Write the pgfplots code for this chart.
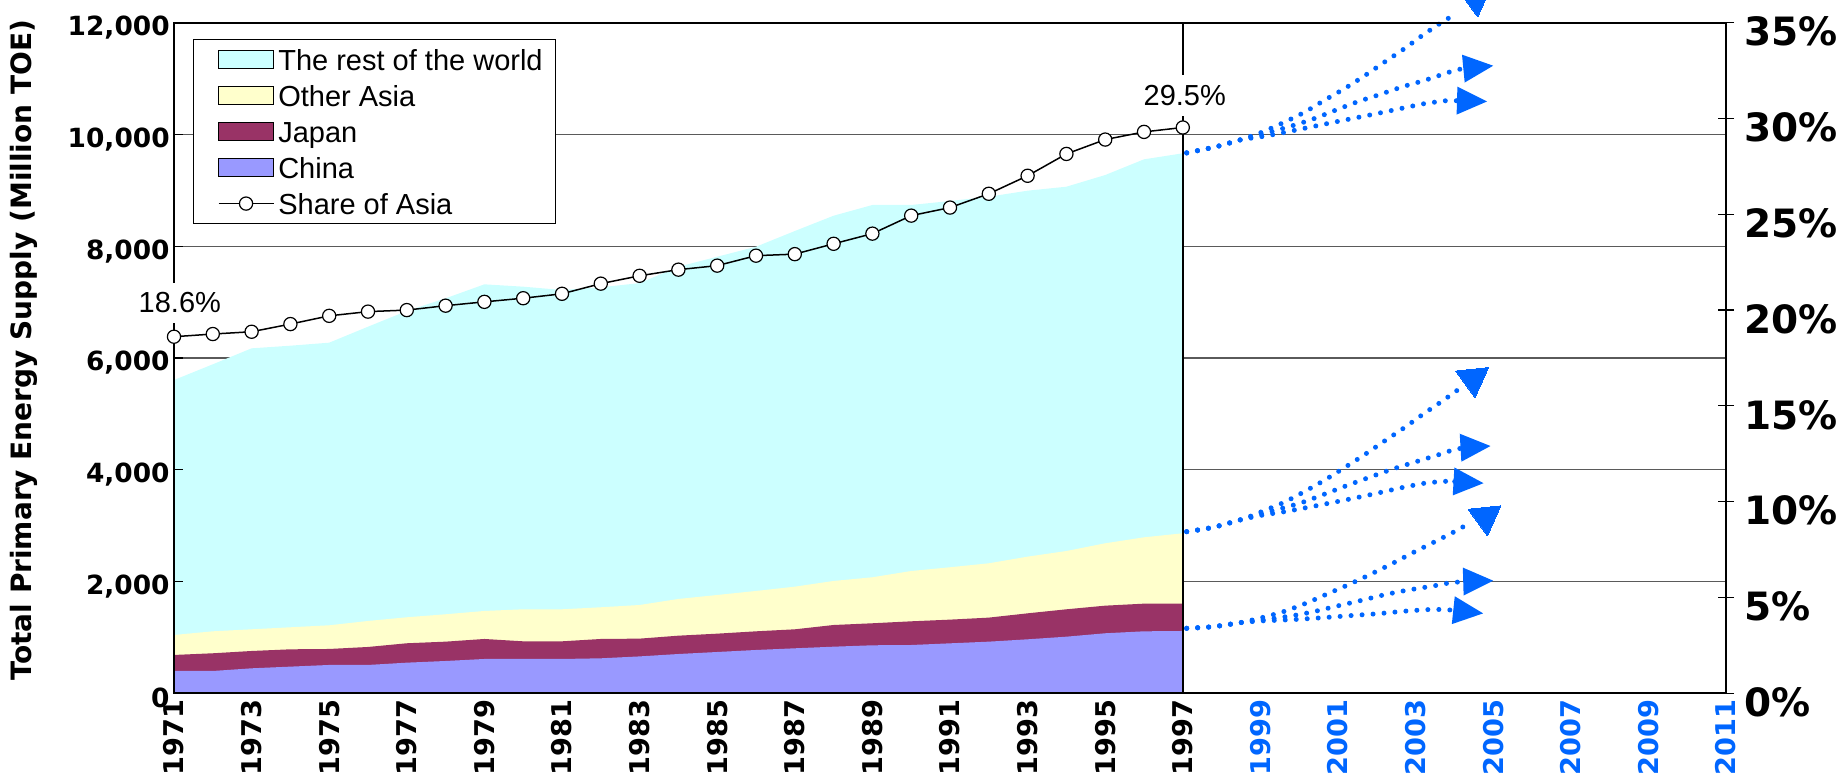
\documentclass[border=0pt]{standalone}
\usepackage{pgfplots}
\pgfplotsset{compat=1.18}
\usepackage{pgfplotstable}
\usetikzlibrary{arrows.meta}
\usepackage{fontspec}
\setmainfont{Liberation Sans}
\newfontfamily\dejavu{DejaVu Sans}

\definecolor{restc}{HTML}{CCFFFF}
\definecolor{oasiac}{HTML}{FFFFCC}
\definecolor{japanc}{HTML}{993366}
\definecolor{chinac}{HTML}{9999FF}
\definecolor{projc}{HTML}{0066FF}
\definecolor{gridc}{HTML}{5A5A5A}

\pgfplotstableread{
year china japan oasia rest share
1971 399 287 357 4563 18.61
1972 399 317 393 4778 18.75
1973 447 310 388 5028 18.87
1974 477 310 394 5039 19.27
1975 507 286 424 5057 19.70
1976 507 322 465 5266 19.92
1977 548 347 465 5481 20.00
1978 578 346 490 5654 20.23
1979 614 358 501 5845 20.43
1980 614 316 573 5773 20.62
1981 614 316 573 5714 20.85
1982 626 346 567 5726 21.38
1983 660 318 602 5760 21.79
1984 703 328 657 5945 22.11
1985 739 328 692 6053 22.32
1986 775 334 722 6160 22.84
1987 805 340 763 6364 22.92
1988 834 388 788 6536 23.46
1989 859 394 823 6662 23.99
1990 864 424 900 6550 24.93
1991 894 424 937 6554 25.35
1992 924 430 972 6560 26.07
1993 966 465 1014 6549 27.01
1994 1013 490 1043 6519 28.15
1995 1074 494 1116 6590 28.90
1996 1109 495 1187 6764 29.30
1997 1115 489 1259 6800 29.53
}\energy

\pgfplotsset{
  areaimg/.style={legend image code/.code={\path (-8pt,0pt); \draw[##1] (0pt,-4.5pt) rectangle (27.5pt,4.5pt);}},
  lineimg/.style={legend image code/.code={\path (-8pt,0pt); \draw[##1] (0pt,0pt) -- (27.5pt,0pt); \draw[##1] plot coordinates {(13.75pt,0pt)};}},
  projline/.style={projc, line width=2.5pt, line cap=round, dash pattern=on 0pt off 5.5pt, smooth, forget plot},
  projarrow/.style={projline, -{Triangle[length=15pt,width=14pt,line width=0pt]}},
  projtip/.style={only marks, mark=triangle*, mark size=9.5pt, mark options={rotate=186, fill=projc, draw=projc, solid, line width=0pt}, forget plot},
}

\begin{document}
\begin{tikzpicture}
\begin{axis}[
  name=main,
  scale only axis, width=776pt, height=335.3pt,
  xmin=1971, xmax=2011, ymin=0, ymax=12000,
  clip=false, axis on top,
  axis line style={black, line width=1pt},
  ytick={0,2000,...,12000}, ytick pos=left,
  scaled y ticks=false,
  /pgf/number format/assume math mode=true,
  /pgf/number format/1000 sep={,},
  yticklabel style={font=\dejavu\bfseries\fontsize{13.2}{13.2}\selectfont, inner xsep=2pt, yshift=-2.5pt},
  ytick style={black, line width=0.6pt}, major tick length=4.5pt,
  xtick={1971,1973,...,2011},
  xticklabels={1971,1973,1975,1977,1979,1981,1983,1985,1987,1989,1991,1993,1995,1997,{\color{projc}1999},{\color{projc}2001},{\color{projc}2003},{\color{projc}2005},{\color{projc}2007},{\color{projc}2009},{\color{projc}2011}},
  xtick style={draw=none},
  xticklabel style={font=\dejavu\bfseries\fontsize{13.6}{13.6}\selectfont, rotate=90, anchor=east, inner xsep=3pt},
  ylabel={Total Primary Energy Supply (Million TOE)},
  ylabel style={font=\dejavu\bfseries\fontsize{14}{14}\selectfont, at={(axis description cs:-0.097,0.512)}, anchor=center},
  legend style={at={(axis description cs:0.012,0.9757)}, anchor=north west, draw=black, line width=0.6pt, fill=white, font=\fontsize{14.5}{17}\selectfont, inner xsep=4.3pt, inner ysep=1pt, row sep=0pt, nodes={text height=12pt, text depth=1pt, inner ysep=2.5pt, inner xsep=2pt}, /tikz/every even column/.append style={column sep=4.75pt}},
  legend cell align=left,
]
\pgfplotsinvokeforeach{2000,4000,6000,8000,10000}{
  \draw[gridc, line width=0.6pt] (axis cs:1971,#1) -- (axis cs:2011,#1);
}
\addplot[fill=restc, draw=none, forget plot] table[x=year, y expr=\thisrow{china}+\thisrow{japan}+\thisrow{oasia}+\thisrow{rest}] {\energy} \closedcycle;
\addplot[fill=oasiac, draw=none, forget plot] table[x=year, y expr=\thisrow{china}+\thisrow{japan}+\thisrow{oasia}] {\energy} \closedcycle;
\addplot[fill=japanc, draw=none, forget plot] table[x=year, y expr=\thisrow{china}+\thisrow{japan}] {\energy} \closedcycle;
\addplot[fill=chinac, draw=none, forget plot] table[x=year, y=china] {\energy} \closedcycle;

% projections: world total
\addplot[projline] coordinates {(1997.1,9670) (1997.86,9781) (1998.47,9901) (1999.03,10038) (1999.59,10211) (2000.13,10396) (2000.66,10616) (2001.18,10826) (2001.70,11058) (2002.20,11296) (2002.71,11535) (2003.20,11785) (2003.70,12018) (2004.00,12140)};
\addplot[projtip] coordinates {(2004.55,12440)};
\addplot[projarrow] coordinates {(1997.1,9670) (1997.86,9781) (1998.47,9901) (1999.03,10002) (1999.80,10151) (2000.36,10277) (2000.95,10438) (2001.51,10586) (2002.09,10718) (2002.67,10855) (2003.26,10974) (2003.85,11112) (2004.13,11166) (2005.0,11230)};
\addplot[projarrow] coordinates {(1997.1,9670) (1997.86,9781) (1998.47,9901) (1999.03,9960) (1999.63,10038) (2000.84,10211) (2002.03,10378) (2003.22,10551) (2003.55,10581) (2003.85,10605) (2004.84,10590)};
% projections: Asia
\addplot[projline] coordinates {(1997.1,2892) (1997.78,2970) (1998.47,3101) (1998.77,3173) (1999.03,3250) (1999.59,3411) (2000.13,3608) (2000.66,3817) (2001.18,4044) (2001.70,4277) (2002.20,4515) (2002.71,4753) (2003.20,4998) (2003.70,5236) (2004.20,5486)};
\addplot[projtip] coordinates {(2004.48,5628)};
\addplot[projarrow] coordinates {(1997.1,2892) (1997.78,2970) (1998.47,3101) (1998.77,3173) (1999.50,3300) (2000.09,3418) (2000.66,3566) (2001.22,3715) (2001.81,3865) (2002.39,4008) (2002.96,4133) (2003.55,4259) (2004.11,4377) (2004.93,4425)};
\addplot[projarrow] coordinates {(1997.1,2892) (1997.78,2970) (1998.47,3101) (1999.03,3185) (1999.63,3250) (2000.23,3328) (2000.84,3411) (2001.44,3495) (2002.03,3584) (2002.64,3679) (2003.22,3758) (2003.53,3781) (2003.83,3793) (2004.75,3760)};
% projections: China
\addplot[projline] coordinates {(1997.1,1163) (1997.78,1192) (1998.47,1263) (1999.03,1353) (1999.59,1460) (2000.17,1610) (2000.72,1777) (2001.29,1950) (2001.84,2130) (2002.39,2319) (2002.93,2516) (2003.48,2707) (2004.02,2899) (2004.29,3006)};
\addplot[projtip] coordinates {(2004.80,3155)};
\addplot[projarrow] coordinates {(1997.1,1163) (1997.78,1192) (1998.47,1263) (1999.03,1310) (1999.89,1396) (2000.45,1473) (2000.98,1562) (2001.57,1657) (2002.17,1759) (2002.77,1843) (2003.45,1920) (2004.00,1986) (2005.0,2015)};
\addplot[projarrow] coordinates {(1997.1,1163) (1997.78,1192) (1998.47,1263) (1999.03,1295) (1999.63,1312) (2000.23,1335) (2000.84,1365) (2001.44,1396) (2002.04,1425) (2002.67,1467) (2003.27,1496) (2003.57,1500) (2003.87,1492) (2004.74,1430)};

\addlegendimage{areaimg, fill=restc, draw=black}
\addlegendentry{The rest of the world}
\addlegendimage{areaimg, fill=oasiac, draw=black}
\addlegendentry{Other Asia}
\addlegendimage{areaimg, fill=japanc, draw=black}
\addlegendentry{Japan}
\addlegendimage{areaimg, fill=chinac, draw=black}
\addlegendentry{China}
\addlegendimage{lineimg, black, line width=0.75pt, mark=*, mark size=3.3pt, mark options={fill=white, line width=0.6pt}}
\addlegendentry{Share of Asia}
\end{axis}

\begin{axis}[
  scale only axis, width=776pt, height=335.3pt,
  xmin=1971, xmax=2011, ymin=0, ymax=35,
  clip=false,
  axis x line=none, axis y line*=right,
  axis line style={-, black, line width=0.8pt},
  ytick={0,5,...,35},
  /pgf/number format/assume math mode=true,
  yticklabel={\pgfmathprintnumber{\tick}\%},
  yticklabel style={font=\dejavu\bfseries\fontsize{19.5}{19.5}\selectfont, anchor=west, inner xsep=0pt, xshift=5pt, yshift=-4.5pt},
  tick align=center, major tick length=8pt, ytick style={black, line width=0.6pt},
]
\addplot[black, line width=0.75pt, mark=*, mark size=3.3pt, mark options={fill=white, line width=0.6pt}] table[x=year, y=share] {\energy};
\draw[black, line width=0.7pt] (axis cs:1997,0) -- (axis cs:1997,35);
\node[fill=white, inner xsep=1pt, inner ysep=5pt, font=\fontsize{14.5}{17}\selectfont] at (axis cs:1971.15,20.37) {18.6\%};
\node[fill=white, inner xsep=1pt, inner ysep=5pt, font=\fontsize{14.5}{17}\selectfont] at (axis cs:1997.05,31.2) {29.5\%};
\end{axis}

\pgfresetboundingbox
\path ([shift={(-87pt,-42.85pt)}]main.south west) rectangle ([shift={(59.5pt,11.35pt)}]main.north east);
\end{tikzpicture}
\end{document}
